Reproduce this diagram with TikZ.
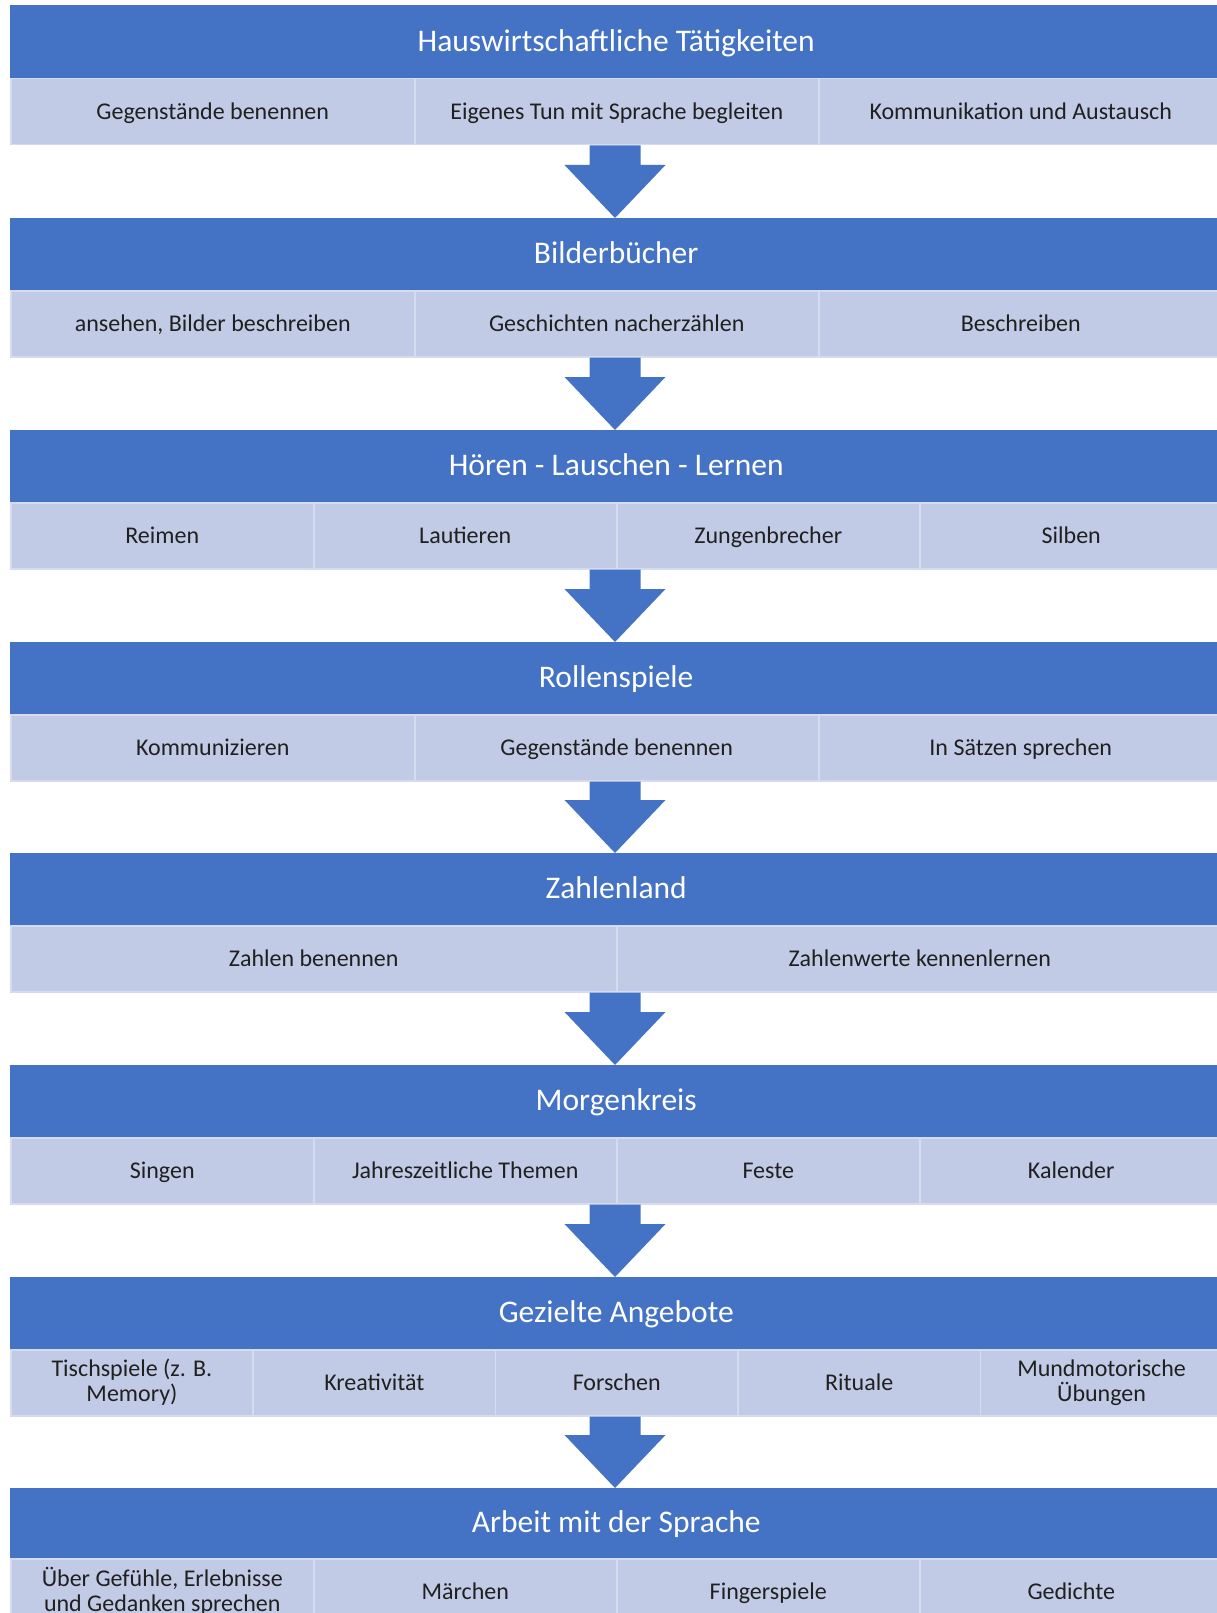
\documentclass[tikz,border=0pt]{standalone}
\usepackage{fontspec}
\setmainfont{Carlito}
\usetikzlibrary{calc}
\definecolor{hblue}{RGB}{68,114,196}
\definecolor{sfill}{RGB}{194,203,230}
\definecolor{sline}{RGB}{214,220,239}
\definecolor{stext}{RGB}{32,32,32}
\newcommand\hstrut{\rule[-6.6pt]{0pt}{32.6pt}}
\newcommand\cstrut{\rule[-4.6pt]{0pt}{24.6pt}}
\tikzset{
  header/.style={rectangle, fill=hblue, text=white, anchor=north west,
    minimum width=1212pt, minimum height=72pt, inner sep=0pt,
    font=\fontsize{31.5}{36}\selectfont,
    execute at begin node=\hstrut, execute at end node=\hstrut},
  cell/.style={rectangle, fill=sfill, draw=sline, line width=1.5pt,
    anchor=north west, minimum height=66pt, inner sep=0pt, text=stext,
    align=center, font=\fontsize{24}{25.5}\selectfont,
    execute at begin node=\cstrut, execute at end node=\cstrut},
  blockarrow/.style={fill=hblue}
}
\newcommand\blockarr[2]{%
  \path[blockarrow] let \p1=(axis |- #1.south), \p2=(axis |- #2.north) in
    (\x1-25.5pt,\y1) -- (\x1+25.5pt,\y1) -- (\x1+25.5pt,\y2+53pt)
    -- (\x1+50.5pt,\y2+53pt) -- (\x2,\y2) -- (\x1-50.5pt,\y2+53pt)
    -- (\x1-25.5pt,\y2+53pt) -- cycle;}
\begin{document}
\begin{tikzpicture}[x=1pt,y=-1pt]
\clip (0,0) rectangle (1217,1613);
\fill[white] (0,0) rectangle (1217,1613);
\coordinate (axis) at (615,0);

% 1
\node[header, minimum height=73pt] (h1) at (10,5) {Hauswirtschaftliche Tätigkeiten};
\node[cell, minimum width=404pt] (c1a) at (10,78) {Gegenstände benennen};
\node[cell, minimum width=404pt] (c1b) at (414,78) {Eigenes Tun mit Sprache begleiten};
\node[cell, minimum width=404pt] (c1c) at (818,78) {Kommunikation und Austausch};

% 2
\node[header] (h2) at (10,218) {Bilderbücher};
\node[cell, minimum width=404pt] (c2a) at (10,290) {ansehen, Bilder beschreiben};
\node[cell, minimum width=404pt] (c2b) at (414,290) {Geschichten nacherzählen};
\node[cell, minimum width=404pt] (c2c) at (818,290) {Beschreiben};

% 3
\node[header] (h3) at (10,430) {Hören - Lauschen - Lernen};
\node[cell, minimum width=303pt] (c3a) at (10,502) {Reimen};
\node[cell, minimum width=303pt] (c3b) at (313,502) {Lautieren};
\node[cell, minimum width=303pt] (c3c) at (616,502) {Zungenbrecher};
\node[cell, minimum width=303pt] (c3d) at (919,502) {Silben};

% 4
\node[header] (h4) at (10,642) {Rollenspiele};
\node[cell, minimum width=404pt] (c4a) at (10,714) {Kommunizieren};
\node[cell, minimum width=404pt] (c4b) at (414,714) {Gegenstände benennen};
\node[cell, minimum width=404pt] (c4c) at (818,714) {In Sätzen sprechen};

% 5
\node[header] (h5) at (10,853) {Zahlenland};
\node[cell, minimum width=606pt] (c5a) at (10,925) {Zahlen benennen};
\node[cell, minimum width=606pt] (c5b) at (616,925) {Zahlenwerte kennenlernen};

% 6
\node[header] (h6) at (10,1065) {Morgenkreis};
\node[cell, minimum width=303pt] (c6a) at (10,1137) {Singen};
\node[cell, minimum width=303pt] (c6b) at (313,1137) {Jahreszeitliche Themen};
\node[cell, minimum width=303pt] (c6c) at (616,1137) {Feste};
\node[cell, minimum width=303pt] (c6d) at (919,1137) {Kalender};

% 7
\node[header] (h7) at (10,1277) {Gezielte Angebote};
\node[cell, minimum width=242.4pt] (c7a) at (10,1349) {Tischspiele (z. B.\\Memory)};
\node[cell, minimum width=242.4pt] (c7b) at (252.4,1349) {Kreativität};
\node[cell, minimum width=242.4pt] (c7c) at (494.8,1349) {Forschen};
\node[cell, minimum width=242.4pt] (c7d) at (737.2,1349) {Rituale};
\node[cell, minimum width=242.4pt] (c7e) at (979.6,1349) {Mundmotorische\\Übungen};

% 8
\node[header, minimum height=70pt] (h8) at (10,1488) {Arbeit mit der Sprache};
\node[cell, minimum width=303pt] (c8a) at (10,1558) {Über Gefühle, Erlebnisse\\und Gedanken sprechen};
\node[cell, minimum width=303pt] (c8b) at (313,1558) {Märchen};
\node[cell, minimum width=303pt] (c8c) at (616,1558) {Fingerspiele};
\node[cell, minimum width=303pt] (c8d) at (919,1558) {Gedichte};

% arrows
\blockarr{c1b}{h2}
\blockarr{c2b}{h3}
\blockarr{c3b}{h4}
\blockarr{c4b}{h5}
\blockarr{c5a}{h6}
\blockarr{c6b}{h7}
\blockarr{c7c}{h8}
\end{tikzpicture}
\end{document}
